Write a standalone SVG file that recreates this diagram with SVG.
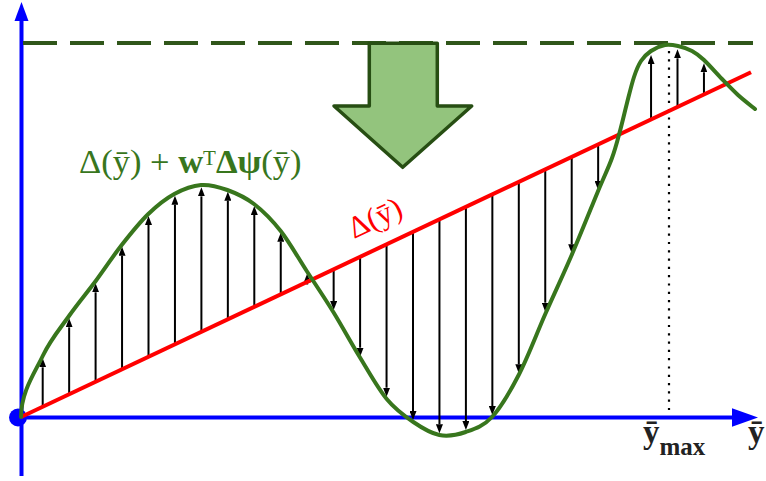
<svg xmlns="http://www.w3.org/2000/svg" width="766" height="481" viewBox="0 0 766 481">
<style>
.axis{stroke:#0000ff;stroke-width:4;fill:none}
.arr{stroke:#000;stroke-width:2;fill:none;marker-end:url(#ah)}
.lbl{font-family:"Liberation Serif","Times New Roman",serif}
</style>
<defs>
<marker id="ah" viewBox="0 0 9 7" refX="0" refY="3.5" markerWidth="9" markerHeight="7" markerUnits="userSpaceOnUse" orient="auto">
<path d="M0,0 L9,3.5 L0,7 z" fill="#000"/>
</marker>
</defs>
<rect width="766" height="481" fill="#fff"/>
<g id="axes">
<line class="axis" x1="21.5" y1="476" x2="21.5" y2="18"/>
<polygon points="21.5,2 28.5,21 14.5,21" fill="#0000ff"/>
<line class="axis" x1="21" y1="417.5" x2="734" y2="417.5"/>
<polygon points="758,417.5 732,408.3 732,426.7" fill="#0000ff"/>
<circle cx="18" cy="417.5" r="9" fill="#0000ff"/>
</g>
<g id="max-line">
<line x1="23" y1="43" x2="753" y2="43" stroke="#30561a" stroke-width="4" stroke-dasharray="34 13"/>
<line x1="669" y1="51" x2="669" y2="414" stroke="#000" stroke-width="2.2" stroke-dasharray="2.2 6.1"/>
</g>
<g id="big-arrow">
<polygon points="369.3,43.3 437.3,43.3 437.3,106 471.7,106 402.7,167.3 334,106 369.3,106" fill="#93c47d" stroke="#274e13" stroke-width="3.5" stroke-linejoin="round"/>
</g>
<g id="connectors">
<line class="arr" x1="42.7" y1="406.8" x2="42.7" y2="367.3"/>
<line class="arr" x1="69.15" y1="394.3" x2="69.15" y2="327.3"/>
<line class="arr" x1="95.6" y1="381.8" x2="95.6" y2="292.3"/>
<line class="arr" x1="122.05" y1="369.3" x2="122.05" y2="255.7"/>
<line class="arr" x1="148.5" y1="356.8" x2="148.5" y2="225"/>
<line class="arr" x1="174.95" y1="344.3" x2="174.95" y2="204.7"/>
<line class="arr" x1="201.4" y1="331.8" x2="201.4" y2="196.3"/>
<line class="arr" x1="227.85" y1="319.3" x2="227.85" y2="200.7"/>
<line class="arr" x1="254.3" y1="306.8" x2="254.3" y2="215"/>
<line class="arr" x1="280.75" y1="294.3" x2="280.75" y2="241.7"/>
<line class="arr" x1="307.2" y1="284.5" x2="307.2" y2="282.5"/>
<line class="arr" x1="333.65" y1="269.3" x2="333.65" y2="301"/>
<line class="arr" x1="360.1" y1="256.8" x2="360.1" y2="347.7"/>
<line class="arr" x1="386.55" y1="244.4" x2="386.55" y2="387.7"/>
<line class="arr" x1="413" y1="231.9" x2="413" y2="411"/>
<line class="arr" x1="439.45" y1="219.4" x2="439.45" y2="424.3"/>
<line class="arr" x1="465.9" y1="206.9" x2="465.9" y2="421"/>
<line class="arr" x1="492.35" y1="194.4" x2="492.35" y2="406"/>
<line class="arr" x1="518.8" y1="181.9" x2="518.8" y2="364.3"/>
<line class="arr" x1="545.25" y1="169.4" x2="545.25" y2="302.7"/>
<line class="arr" x1="571.7" y1="156.9" x2="571.7" y2="244.3"/>
<line class="arr" x1="598.15" y1="144.5" x2="598.15" y2="181"/>
<line class="arr" x1="651.05" y1="119.4" x2="651.05" y2="64"/>
<line class="arr" x1="677.5" y1="106.9" x2="677.5" y2="58.3"/>
<line class="arr" x1="703.95" y1="94.4" x2="703.95" y2="72.3"/>
</g>
<g id="delta-line">
<line x1="21" y1="417" x2="751" y2="72.2" stroke="#ff0000" stroke-width="4"/>
</g>
<g id="score-curve">
<path fill="none" stroke="#38761d" stroke-width="4" stroke-linecap="round" d="M21,417 C21,392 34.7,372.8 42.7,356 C50.7,339.2 60.2,328.5 69,316 C77.8,303.5 86.9,292.8 95.7,281 C104.5,269.2 112.9,256.2 121.7,245 C130.5,233.8 139.5,222.5 148.3,214 C157.1,205.5 165.5,198.8 174.3,194 C183.1,189.2 192.2,185.7 201,185 C209.8,184.3 218.5,186.8 227.3,190 C236.1,193.2 245.1,197.2 254,204 C262.9,210.8 271.9,219.8 280.7,231 C289.5,242.2 297.9,257.5 306.7,271 C315.5,284.5 324.4,297.6 333.3,312 C342.2,326.4 351.1,343 360,357.5 C368.9,372 377.8,388.3 386.7,399 C395.6,409.8 404.5,416 413.3,422 C422.1,428 430.6,433.3 439.3,435 C448,436.7 456.9,435 465.7,432 C474.5,429 483.2,426.5 492,417 C500.8,407.5 509.8,392.2 518.7,375 C527.6,357.8 536.5,334 545.3,314 C554.1,294 563,275.3 571.7,255 C580.4,234.7 591,208.2 597.7,192 C604.4,175.8 608.3,168.2 612,158 C615.7,147.8 617.5,140.2 620,131 C622.5,121.8 624.7,112 627,103 C629.3,94 631.7,84 634,77 C636.3,70 638.2,65.3 641,61 C643.8,56.7 647,53.7 651,51 C655,48.3 660.5,45.8 665,45 C669.5,44.2 673.5,45 678,46 C682.5,47 687.7,48.7 692,51 C696.3,53.3 699,55.3 704,60 C709,64.7 716.3,73.2 722,79 C727.7,84.8 732.5,90 738,95 C743.5,100 752.2,106.7 755,109"/>
</g>
<g id="labels" class="lbl">
<text x="79" y="173" font-size="34.5" fill="#38761d">Δ(ȳ) + <tspan font-weight="bold">w</tspan><tspan font-size="21" dy="-8">T</tspan><tspan dy="8" font-weight="bold">Δψ</tspan>(ȳ)</text>
<text transform="translate(354,239) rotate(-25.3)" font-size="31" fill="#ff0000">Δ(ȳ)</text>
<text x="643" y="443" font-size="33" font-weight="bold" fill="#222">ȳ<tspan font-size="25" dy="12">max</tspan></text>
<text x="748" y="443" font-size="33" font-weight="bold" fill="#222">ȳ</text>
</g>
</svg>
